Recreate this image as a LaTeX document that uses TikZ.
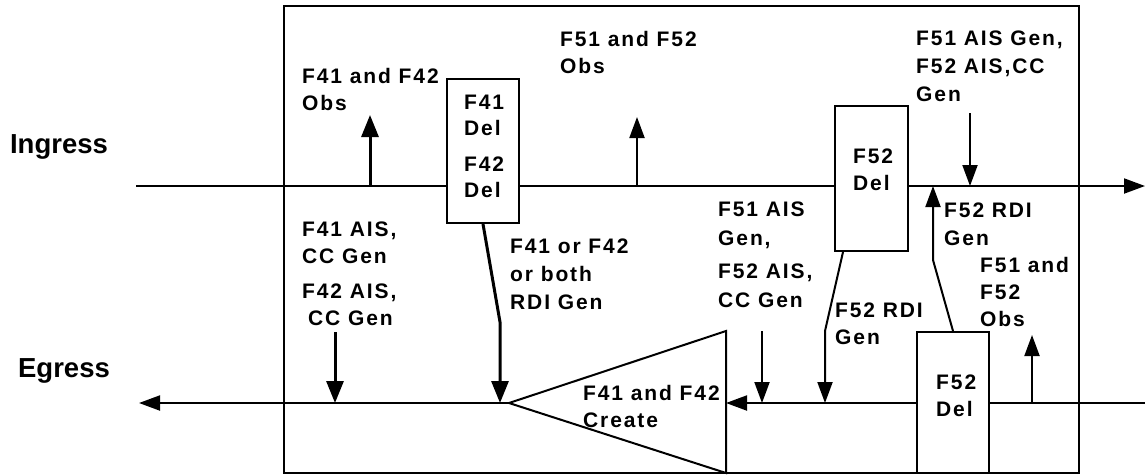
\documentclass[tikz,border=0pt]{standalone}
\usepackage{fontspec}
\setmainfont{Liberation Sans}
\newfontfamily\lf{Liberation Sans}[LetterSpace=9]
\usetikzlibrary{arrows.meta}
\begin{document}
\begin{tikzpicture}[x=1pt,y=-1pt,
  lbl/.style={anchor=north west,inner sep=0pt,align=left,font=\lf\bfseries\fontsize{21}{27}\selectfont},
  side/.style={inner sep=0pt,font=\bfseries\fontsize{27.5}{30}\selectfont},
  ln/.style={line width=2pt},
  arr/.style={line width=2pt,-{Triangle[length=21pt,width=15pt]}},
  tarr/.style={line width=3pt,-{Triangle[length=22pt,width=17pt]}},
  box/.style={draw,line width=2pt,fill=white,inner sep=0pt,anchor=north west}]

\useasboundingbox (0,0) rectangle (1145,475);

% frame
\node[draw,line width=2pt,inner sep=0pt,anchor=north west,minimum width=795pt,minimum height=467pt] (frame) at (283,5) {};

% main lines coordinates
\coordinate (inL) at (136,186);
\coordinate (inR) at (1145,186);
\coordinate (egL) at (139,403);
\coordinate (egR) at (1145,403);

% boxes
\node[box,minimum width=72pt,minimum height=144pt] (f41) at (446,78) {};
\node[box,minimum width=73pt,minimum height=145pt] (f52a) at (834,105) {};
\node[box,minimum width=72pt,minimum height=141pt] (f52b) at (916,331) {};

% triangle
\coordinate (tA) at (509,403);
\coordinate (tT) at (726,331);
\coordinate (tB) at (726,473);
\draw[ln] (tT) -- (tA) -- (tB) -- cycle;

% ingress line
\draw[ln] (inL) -- (inL -| f41.west);
\draw[ln] (inL -| f41.east) -- (inL -| f52a.west);
\draw[arr] (inL -| f52a.east) -- (inR);

% egress line
\draw[ln] (egR) -- (egR -| f52b.east);
\draw[arr] (egR -| f52b.west) -- (egR -| tT);
\draw[arr] (tA) -- (egL);

% arrows
\coordinate (o41) at (370,186);  \coordinate (o41t) at (370,115);
\draw[tarr] (o41) -- (o41t);
\coordinate (o51) at (637,186);  \coordinate (o51t) at (637,117);
\draw[arr] (o51) -- (o51t);
\coordinate (g51) at (970,113);  \coordinate (g51t) at (970,186);
\draw[arr] (g51) -- (g51t);
\coordinate (g42) at (335,332);  \coordinate (g42t) at (335,403);
\draw[tarr] (g42) -- (g42t);
\coordinate (r41b) at (500,322); \coordinate (r41t) at (500,403);
\draw[tarr] (f41.south) -- (r41b) -- (r41t);
\coordinate (g52) at (762,331);  \coordinate (g52t) at (762,403);
\draw[arr] (g52) -- (g52t);
\coordinate (r52b) at (825,331); \coordinate (r52t) at (825,403);
\draw[arr] ([xshift=9pt]f52a.south west) -- (r52b) -- (r52t);
\coordinate (u52b) at (933,260); \coordinate (u52t) at (933,186);
\draw[arr] (f52b.north) -- (u52b) -- (u52t);
\coordinate (o52) at (1032,403); \coordinate (o52t) at (1032,335);
\draw[arr] (o52) -- (o52t);

% side labels
\node[side] (ing) at (59,147) {Ingress};
\node[side] (egr) at (64,371) {Egress};

% labels
\node[lbl] (tobs41) at (302,68) {F41 and F42\\Obs};
\node[lbl,font=\lf\bfseries\fontsize{21}{26}\selectfont] (tdel41) at (464,95) {F41\\Del\\[10pt]F42\\Del};
\node[lbl] (tobs51) at (560,31) {F51 and F52\\Obs};
\node[lbl,font=\lf\bfseries\fontsize{21}{28}\selectfont] (tgen51) at (916,31) {F51 AIS Gen,\\F52 AIS,CC\\Gen};
\node[lbl] (tdel52a) at (853,149) {F52\\Del};
\node[lbl] (tais41) at (302,222) {F41 AIS,\\CC Gen};
\node[lbl] (tais42) at (302,284) {F42 AIS,\\\hspace*{6pt}CC Gen};
\node[lbl,font=\lf\bfseries\fontsize{21}{28}\selectfont] (trdi41) at (510,239) {F41 or F42\\or both\\RDI Gen};
\node[lbl] (tcreate) at (583,385) {F41 and F42\\Create};
\node[lbl,font=\lf\bfseries\fontsize{21}{28.5}\selectfont] (tais51) at (718,202) {F51 AIS\\Gen,\\[5pt]F52 AIS,\\CC Gen};
\node[lbl,font=\lf\bfseries\fontsize{21}{26.5}\selectfont] (trdi52b) at (835,303) {F52 RDI\\Gen};
\node[lbl,font=\lf\bfseries\fontsize{21}{28}\selectfont] (trdi52a) at (944,203) {F52 RDI\\Gen};
\node[lbl] (tobs52) at (980,257) {F51 and\\F52\\Obs};
\node[lbl] (tdel52b) at (936,375) {F52\\Del};
\end{tikzpicture}
\end{document}
